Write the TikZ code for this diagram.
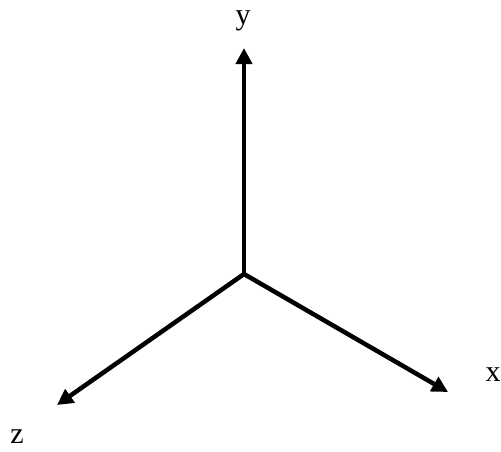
\documentclass[tikz,border=0pt]{standalone}
\usepackage{fontspec}
\setmainfont{Liberation Serif}
\usetikzlibrary{arrows.meta}
\begin{document}
\begin{tikzpicture}[x=1pt,y=-1pt,
  axis/.style={line width=4.5pt,-{Triangle[length=16pt,width=16pt]}},
  lbl/.style={inner sep=0pt,font=\fontsize{30}{34}\selectfont}]
\useasboundingbox (0,0) rectangle (501,451);
\coordinate (O) at (244,274);
\coordinate (Y) at (244,48);
\coordinate (X) at (448,392);
\coordinate (Z) at (57,405);
\node[lbl] (ly) at (243,21) {y};
\node[lbl] (lx) at (493,375) {x};
\node[lbl] (lz) at (17,437) {z};
\draw[axis] (O) -- (Y);
\draw[axis] (O) -- (X);
\draw[axis] (O) -- (Z);
\end{tikzpicture}
\end{document}
